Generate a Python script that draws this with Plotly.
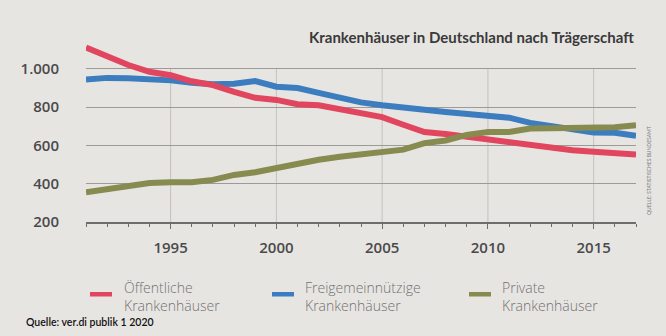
import plotly.graph_objects as go

years = list(range(1991, 2018))
oeffentlich = [1112, 1065, 1020, 985, 967, 935, 915, 880, 849, 838, 815, 810, 790, 772, 748,
               708, 670, 660, 646, 628, 613, 597, 586, 575, 567, 560, 552]
freigemein = [945, 953, 951, 948, 940, 928, 920, 922, 936, 907, 900, 875, 850, 825, 810,
              795, 786, 775, 765, 750, 745, 718, 700, 685, 668, 666, 650]
privat = [355, 370, 384, 404, 408, 408, 420, 446, 460, 482, 505, 525, 541, 553, 565,
          578, 612, 626, 655, 670, 670, 688, 690, 692, 690, 695, 705]

series_names = ["Öffentliche<br>Krankenhäuser",
                "Freigemeinnützige<br>Krankenhäuser",
                "Private<br>Krankenhäuser"]
colors = ["#e2465f", "#3b7dbf", "#878b4f"]

y_ticks = [200, 400, 600, 800, 1000]
y_ticktext = ["200", "400", "600", "800", "1.000"]
x_ticks = [1995, 2000, 2005, 2010, 2015]

title = "Krankenhäuser in Deutschland nach Trägerschaft"
source = "Quelle: ver.di publik 1 2020"
side_note = "QUELLE: STATISTISCHES BUNDESAMT"

W, H = 666, 336
L, R, T, B = 86, 30, 44, 114
PW, PH = W - L - R, H - T - B


def px(x):
    return (x - L) / PW


def py(y):
    return (H - B - y) / PH


bg = "#e7e5e2"
fig = go.Figure()

# draw order: blue, red, olive
for idx in [1, 0, 2]:
    vals = [oeffentlich, freigemein, privat][idx]
    fig.add_trace(go.Scatter(x=years, y=vals, mode="lines",
                             line=dict(color=colors[idx], width=6),
                             name=series_names[idx].replace("<br>", " "), showlegend=False,
                             hoverinfo="skip"))

# vertical grid lines (only up to 1000)
for xv in x_ticks:
    fig.add_shape(type="line", xref="x", yref="y", x0=xv, x1=xv, y0=200, y1=1000,
                  line=dict(color="#c3c2bf", width=1), layer="below")

fig.update_layout(
    width=W, height=H,
    margin=dict(l=L, r=R, t=T, b=B),
    paper_bgcolor=bg, plot_bgcolor=bg,
    showlegend=False,
    xaxis=dict(range=[1991, 2017], tickvals=x_ticks, showgrid=False, zeroline=False,
               showline=True, linecolor="#6d6d6d", linewidth=1.5,
               ticks="outside", ticklen=5, tickwidth=1.3, tickcolor="#6d6d6d",
               ticklabelstandoff=6,
               minor=dict(tick0=1991, dtick=1, ticks="outside", ticklen=3,
                          tickwidth=1.2, tickcolor="#6d6d6d", showgrid=False),
               tickfont=dict(family="Open Sans", size=15, color="#4a4a4a", weight=600)),
    yaxis=dict(range=[200, 1130], tickvals=y_ticks, ticktext=y_ticktext,
               showgrid=True, gridcolor="#9c9b98", gridwidth=1, zeroline=False,
               showline=False, ticks="", ticklabelstandoff=26,
               tickfont=dict(family="Open Sans", size=15, color="#4a4a4a", weight=600)),
)

ann = []
ann.append(dict(text=title, xref="paper", yref="paper", x=px(636), y=py(37),
                xanchor="right", yanchor="middle", showarrow=False,
                font=dict(family="Lato", size=15, color="#3a3a3a", weight="bold")))
ann.append(dict(text=source, xref="paper", yref="paper", x=px(24), y=py(322),
                xanchor="left", yanchor="middle", showarrow=False,
                font=dict(family="Lato", size=10.5, color="#111111", weight=600)))
ann.append(dict(text=side_note, xref="paper", yref="paper", x=px(649), y=py(171),
                xanchor="center", yanchor="middle", showarrow=False, textangle=-90,
                font=dict(family="Lato", size=5, color="#7a7a7a")))

swatch_x = [90, 272, 469]
text_x = [122, 303, 500]
for i in range(3):
    fig.add_shape(type="rect", xref="paper", yref="paper",
                  x0=px(swatch_x[i]), x1=px(swatch_x[i] + 22),
                  y0=py(292), y1=py(296.5), line=dict(width=0), fillcolor=colors[i])
    ann.append(dict(text=series_names[i], xref="paper", yref="paper",
                    x=px(text_x[i]), y=py(296), xanchor="left", yanchor="middle",
                    align="left", showarrow=False,
                    font=dict(family="Open Sans", size=14, color="#727272", weight=300)))
fig.update_layout(annotations=ann)

fig.write_html("out.html")
